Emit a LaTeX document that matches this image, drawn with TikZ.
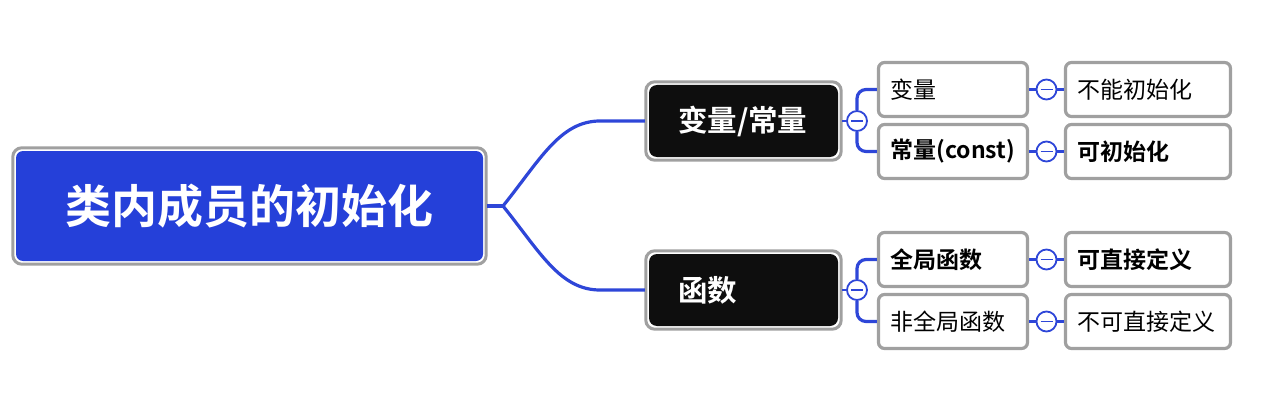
\documentclass[tikz,border=0pt]{standalone}
\usepackage{fontspec}
\usetikzlibrary{calc}
\setmainfont{Noto Sans CJK SC}[BoldFont={Noto Sans CJK SC Bold}]
\definecolor{mblue}{HTML}{2540D9}
\definecolor{lblue}{HTML}{2E46D8}
\definecolor{bgray}{HTML}{A0A0A0}
\definecolor{nblack}{HTML}{0E0E0E}
\begin{document}
\begin{tikzpicture}[x=1pt,y=-1pt,
  rootbox/.style={fill=mblue,rounded corners=7pt,
     minimum width=467pt,minimum height=110pt,text=white,font=\bfseries\fontsize{46}{50}\selectfont,inner sep=0pt},
  topicbox/.style={fill=nblack,rounded corners=8pt,
     minimum width=189pt,minimum height=72pt,text=white,font=\bfseries\fontsize{29.5}{32}\selectfont,
     text width=131pt,align=left,inner sep=0pt},
  frame/.style={draw=bgray,line width=3pt,rounded corners=9pt},
  subbox/.style={fill=white,draw=bgray,line width=3.2pt,rounded corners=6pt,minimum height=54pt,
     text width=#1,align=left,inner xsep=12pt,inner ysep=0pt,font=\fontsize{23}{25}\selectfont},
  link/.style={draw=lblue,line width=3.2pt},
  thin/.style={draw=lblue,line width=2.4pt},
  fold/.style={circle,draw=lblue,fill=white,line width=1.8pt,minimum size=20pt,inner sep=0pt}]
\useasboundingbox (0,0) rectangle (1267,404);

\node[rootbox] (root) at (249.5,206) {类内成员的初始化};
\node[topicbox] (t1) at (743.5,121) {变量/常量};
\node[topicbox] (t2) at (743.5,290) {函数};
\foreach \n in {root,t1,t2}{
  \draw[frame] ([xshift=-3pt,yshift=3pt]\n.north west) rectangle ([xshift=3pt,yshift=-3pt]\n.south east);
}

\node[subbox=125pt] (s1) at (953,89.5) {变量};
\node[subbox=125pt,font=\bfseries\fontsize{23}{25}\selectfont] (s2) at (953,151.5) {常量(const)};
\node[subbox=125pt,font=\bfseries\fontsize{23}{25}\selectfont] (s3) at (953,259.5) {全局函数};
\node[subbox=125pt] (s4) at (953,321.5) {非全局函数};

\node[subbox=141pt] (r1) at (1148,89.5) {不能初始化};
\node[subbox=141pt,font=\bfseries\fontsize{23}{25}\selectfont] (r2) at (1148,151.5) {可初始化};
\node[subbox=141pt,font=\bfseries\fontsize{23}{25}\selectfont] (r3) at (1148,259.5) {可直接定义};
\node[subbox=141pt] (r4) at (1148,321.5) {不可直接定义};

\coordinate (j) at (503,206);
\coordinate (re) at ([xshift=4pt]root.east);
\coordinate (t1w) at ([xshift=-4pt]t1.west);
\coordinate (t2w) at ([xshift=-4pt]t2.west);
\coordinate (t1e) at ([xshift=4pt]t1.east);
\coordinate (t2e) at ([xshift=4pt]t2.east);
\path[link] (re) -- (j);
\path[link] (j) .. controls (540,160) and (560,121) .. (600,121) -- (t1w);
\path[link] (j) .. controls (540,252) and (560,290) .. (600,290) -- (t2w);

\node[fold] (c1) at (857,121) {};
\node[fold] (c2) at (857,290) {};
\path[thin] (t1e) -- (c1.west);
\path[thin] (t2e) -- (c2.west);
\path[link,rounded corners=9pt] (c1.north) |- (s1.west);
\path[link,rounded corners=9pt] (c1.south) |- (s2.west);
\path[link,rounded corners=9pt] (c2.north) |- (s3.west);
\path[link,rounded corners=9pt] (c2.south) |- (s4.west);

\foreach \a/\b/\n in {s1/r1/d1,s2/r2/d2,s3/r3/d3,s4/r4/d4}{
  \node[fold] (\n) at ($(\a.east)!0.5!(\b.west)$) {};
  \path[thin] (\a.east) -- (\n.west);
  \path[thin] (\n.east) -- (\b.west);
}
\foreach \n in {c1,c2,d1,d2,d3,d4}{
  \draw[lblue,line width=1.8pt] ([xshift=-6pt]\n.center) -- ([xshift=6pt]\n.center);
}
\end{tikzpicture}
\end{document}
